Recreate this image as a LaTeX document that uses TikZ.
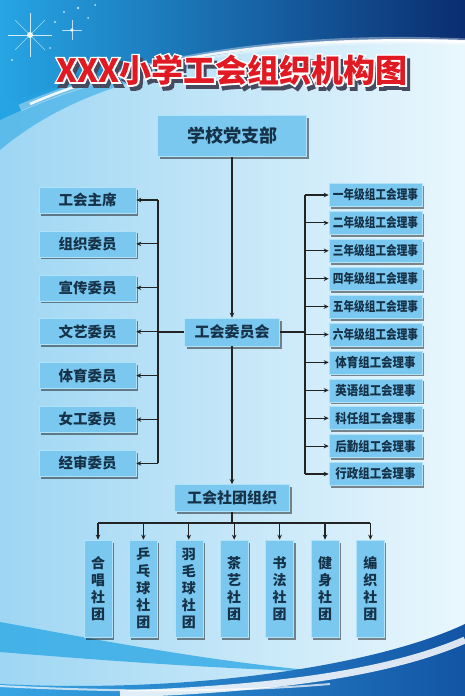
\documentclass[tikz,border=0pt]{standalone}
\usepackage{fontspec}
\usepackage{graphicx}
\setmainfont{Noto Sans CJK SC}
\usetikzlibrary{positioning,arrows.meta,shadows}
\definecolor{boxblue}{RGB}{122,200,240}
\definecolor{boxedge}{RGB}{178,226,248}
\definecolor{boxtext}{RGB}{22,50,72}
\definecolor{linegray}{RGB}{35,35,35}
\definecolor{skytop}{RGB}{38,165,228}
\definecolor{skydark}{RGB}{10,45,112}
\definecolor{paleleft}{RGB}{158,214,243}
\definecolor{paleright}{RGB}{234,247,253}
\definecolor{wavelow}{RGB}{55,165,228}
\definecolor{wavedark}{RGB}{18,85,165}
\definecolor{titlered}{RGB}{225,25,35}
\definecolor{titleshade}{RGB}{70,75,95}
\newcommand{\sq}[2]{\scalebox{#1}[1]{#2}}

\begin{document}
\begin{tikzpicture}[x=1pt, y=-1pt,
    box/.style={rectangle, draw=boxedge, line width=0.6pt, fill=boxblue, text=boxtext,
                drop shadow={shadow xshift=2pt, shadow yshift=-2.5pt, fill=black, opacity=0.45},
                font=\bfseries\fontsize{14.5}{16}\selectfont, inner sep=2pt, align=center},
    lbox/.style={box, minimum width=97pt, minimum height=26pt},
    rbox/.style={box, minimum width=93pt, minimum height=23pt,
                 font=\bfseries\fontsize{13}{14}\selectfont},
    vbox/.style={box, minimum width=28pt, minimum height=97pt,
                 font=\bfseries\fontsize{14}{17}\selectfont},
    title/.style={font=\bfseries\fontsize{32}{34}\selectfont},
    titleline/.style={font=\bfseries\fontsize{32}{34}\selectfont\addfontfeature{FakeBold=10}},
    line/.style={draw=linegray, line width=1.1pt},
    arr/.style={line, -{Stealth[length=5pt, width=4.5pt]}}
  ]
  \useasboundingbox (0,0) rectangle (465,696);

  % background
  \shade[left color=paleleft, right color=paleright] (0,0) rectangle (465,696);
  \shade[left color=skytop, right color=skydark]
        (0,0) -- (465,0) -- (465,40) .. controls (300,34) and (130,58) .. (0,120) -- cycle;
  \fill[skytop, opacity=0.55]
        (0,105) .. controls (70,80) and (140,66) .. (220,62)
        .. controls (130,78) and (60,100) .. (0,150) -- cycle;
  \draw[white, line width=7pt, opacity=0.35] (20,108) .. controls (140,56) and (300,34) .. (465,42);
  \draw[white, line width=2.5pt, opacity=0.9] (30,104) .. controls (140,56) and (300,34) .. (465,42);
  \fill[skytop, opacity=0.75]
        (0,622) .. controls (100,640) and (210,662) .. (330,672)
        .. controls (200,668) and (100,660) .. (0,652) -- cycle;
  \shade[left color=wavelow, right color=wavedark]
        (0,696) -- (0,684) .. controls (200,694) and (380,664) .. (465,624) -- (465,696) -- cycle;
  \draw[white, line width=7pt, opacity=0.85] (120,694) .. controls (300,688) and (400,668) .. (465,640);
  \draw[white, line width=2pt, opacity=0.7] (0,686) .. controls (150,694) and (260,690) .. (330,684);

  % sparkles
  \draw[white, line width=1pt, opacity=0.8] (8,35) -- (52,35) (30,13) -- (30,57);
  \draw[white, line width=0.6pt, opacity=0.6] (15,20) -- (45,50) (15,50) -- (45,20);
  \fill[white, opacity=0.9] (30,35) circle (3pt);
  \draw[white, line width=0.8pt, opacity=0.7] (62,30) -- (82,30) (72,20) -- (72,40);
  \fill[white, opacity=0.9] (72,30) circle (1.8pt);
  \fill[white, opacity=0.7] (55,22) circle (1.2pt) (64,12) circle (1.2pt) (78,8) circle (1.4pt)
        (88,18) circle (1pt) (50,48) circle (1pt) (12,60) circle (1.2pt) (95,5) circle (1pt);

  % title
  \node[titleline, text=titleshade] (tshade) at (235,74) {XXX小学工会组织机构图};
  \node[titleline, text=white] (tline) at (232,70) {XXX小学工会组织机构图};
  \node[title, text=titlered] (title) at (232,70) {XXX小学工会组织机构图};

  % main column
  \node[box, minimum width=149pt, minimum height=41pt,
        font=\bfseries\fontsize{18}{20}\selectfont] (dzb) at (232,136) {学校党支部};
  \node[box, minimum width=95pt, minimum height=28pt,
        font=\bfseries\fontsize{15}{17}\selectfont] (wyh) at (232,332) {工会委员会};
  \node[box, minimum width=115pt, minimum height=27pt,
        font=\bfseries\fontsize{15}{17}\selectfont] (sttz) at (232,498) {工会社团组织};

  % committee members
  \node[lbox] (l1) at (87.5,200) {工会主席};
  \node[lbox, below=17.3pt of l1] (l2) {组织委员};
  \node[lbox, below=17.3pt of l2] (l3) {宣传委员};
  \node[lbox, below=17.3pt of l3] (l4) {文艺委员};
  \node[lbox, below=17.3pt of l4] (l5) {体育委员};
  \node[lbox, below=17.3pt of l5] (l6) {女工委员};
  \node[lbox, below=17.3pt of l6] (l7) {经审委员};

  % group directors
  \node[rbox] (r1) at (375.5,195) {\sq{0.82}{一年级组工会理事}};
  \node[rbox, below=4.3pt of r1] (r2) {\sq{0.82}{二年级组工会理事}};
  \node[rbox, below=4.3pt of r2] (r3) {\sq{0.82}{三年级组工会理事}};
  \node[rbox, below=4.3pt of r3] (r4) {\sq{0.82}{四年级组工会理事}};
  \node[rbox, below=4.3pt of r4] (r5) {\sq{0.82}{五年级组工会理事}};
  \node[rbox, below=4.3pt of r5] (r6) {\sq{0.82}{六年级组工会理事}};
  \node[rbox, below=4.3pt of r6] (r7) {\sq{0.88}{体育组工会理事}};
  \node[rbox, below=4.3pt of r7] (r8) {\sq{0.88}{英语组工会理事}};
  \node[rbox, below=4.3pt of r8] (r9) {\sq{0.88}{科任组工会理事}};
  \node[rbox, below=4.3pt of r9] (r10) {\sq{0.88}{后勤组工会理事}};
  \node[rbox, below=4.3pt of r10] (r11) {\sq{0.88}{行政组工会理事}};

  % clubs
  \node[vbox] (b1) at (98,588.5) {合\\唱\\社\\团};
  \node[vbox, right=16.8pt of b1] (b2) {乒\\乓\\球\\社\\团};
  \node[vbox, right=16.8pt of b2] (b3) {羽\\毛\\球\\社\\团};
  \node[vbox, right=16.8pt of b3] (b4) {茶\\艺\\社\\团};
  \node[vbox, right=16.8pt of b4] (b5) {书\\法\\社\\团};
  \node[vbox, right=16.8pt of b5] (b6) {健\\身\\社\\团};
  \node[vbox, right=16.8pt of b6] (b7) {编\\织\\社\\团};

  % buses
  \coordinate (lbus) at (158,0);
  \coordinate (rbus) at (305,0);
  \coordinate (bbus) at (0,523);

  % connectors
  \draw[arr] (dzb.south) -- (wyh.north);
  \draw[arr] (wyh.south) -- (sttz.north);
  \draw[line] (wyh.west) -- (wyh.west -| lbus);
  \draw[line] (wyh.east) -- (wyh.east -| rbus);
  \draw[line] (l1.east -| lbus) -- (l7.east -| lbus);
  \draw[line] (r1.west -| rbus) -- (r11.west -| rbus);
  \draw[line] (sttz.south) -- (sttz.south |- bbus);
  \draw[line] (b1.north |- bbus) -- (b7.north |- bbus);
  \foreach \n in {l1,l2,l3,l4,l5,l6,l7}
    \draw[arr] (\n.east -| lbus) -- (\n.east);
  \foreach \n in {r1,r2,r3,r4,r5,r6,r7,r8,r9,r10,r11}
    \draw[arr] (\n.west -| rbus) -- (\n.west);
  \foreach \n in {b1,b2,b3,b4,b5,b6,b7}
    \draw[arr] (\n.north |- bbus) -- (\n.north);
\end{tikzpicture}
\end{document}
